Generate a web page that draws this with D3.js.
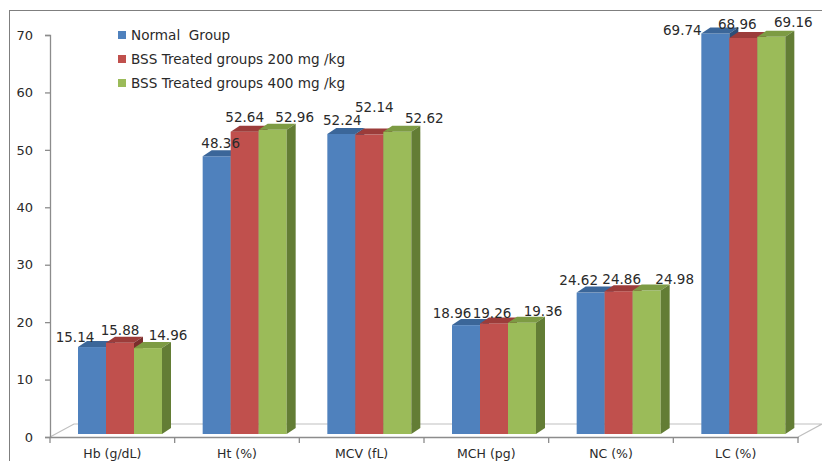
<!DOCTYPE html>
<html>
<head>
<meta charset="utf-8">
<script src="https://cdn.jsdelivr.net/npm/d3@7"></script>
<style>
  html, body { margin: 0; padding: 0; background: #fff; }
  svg { display: block; }
</style>
</head>
<body>
<svg id="chart" width="822" height="461"></svg>
<script>
// Haematological parameters per group
const categories = ["Hb (g/dL)", "Ht (%)", "MCV (fL)", "MCH (pg)", "NC (%)", "LC (%)"];
const seriesNames = ["Normal  Group", "BSS Treated groups 200 mg /kg", "BSS Treated groups 400 mg /kg"];
const normalGroup = [15.14, 48.36, 52.24, 18.96, 24.62, 69.74];
const bss200 = [15.88, 52.64, 52.14, 19.26, 24.86, 68.96];
const bss400 = [14.96, 52.96, 52.62, 19.36, 24.98, 69.16];
const yTicks = [0, 10, 20, 30, 40, 50, 60, 70];

// face colours: front, top, side
const palette = [
  { front: "#4F81BD", top: "#3B6699", side: "#2E4F78" },
  { front: "#C0504D", top: "#9C3C3A", side: "#7A2E2C" },
  { front: "#9BBB59", top: "#7D9B43", side: "#637D35" }
];

// hand-placed nudges for value labels so neighbours do not collide
const labelNudge = [
  [[-17, 3], [0, 0], [-2, 0]],
  [[4, 0], [0, -2], [0, 0]],
  [[1, -1], [5, -15], [5, -1]],
  [[-14, 1], [-2, 3], [-1, 1]],
  [[-12, 0], [3, 1], [6, 1]],
  [[-33, 10], [-6, -1], [0, -2]]
];

const series = [normalGroup, bss200, bss400];
const svg = d3.select("#chart");
const font = "'DejaVu Sans', Verdana, sans-serif";
const axisColor = "#8C8C8C";
const textColor = "#2a2a2a";

// outer frame
svg.append("rect")
  .attr("x", 9.5).attr("y", 10.5).attr("width", 900).attr("height", 600)
  .attr("fill", "none").attr("stroke", "#7F7F7F").attr("stroke-width", 1);

const x = d3.scaleBand().domain(categories).range([50, 798]).paddingInner(0).paddingOuter(0);
const y = d3.scaleLinear().domain([0, 70]).range([437, 35]);
const xs = d3.scaleBand().domain(d3.range(series.length)).range([28, 112]);

// 3D geometry
const floorDx = 24, floorDy = -13;
const lift = -3;            // bars sit a little behind the front edge
const depthX = 9, depthY = -6;

// floor
const x0 = x.range()[0], x1 = x.range()[1], yz = y(0);
svg.append("path")
  .attr("d", `M${x0},${yz} L${x0 + floorDx},${yz + floorDy} L${x1 + floorDx},${yz + floorDy} L${x1},${yz}`)
  .attr("fill", "none").attr("stroke", "#BFBFBF").attr("stroke-width", 1.2);

// y axis
const yAxis = d3.axisLeft(y).tickValues(yTicks).tickSize(5).tickPadding(12).tickFormat(d3.format("d"));
const gy = svg.append("g").attr("transform", "translate(50,0)").call(yAxis);
gy.select(".domain").attr("stroke", axisColor).attr("stroke-width", 1.3);
gy.selectAll(".tick line").attr("stroke", axisColor).attr("stroke-width", 1.3);
gy.selectAll(".tick text").attr("font-family", font).attr("font-size", 13).attr("fill", textColor);

// x axis (front edge of the floor)
const xAxis = d3.axisBottom(x).tickSize(0).tickPadding(12);
const gx = svg.append("g").attr("transform", `translate(0,${yz})`).call(xAxis);
gx.select(".domain").attr("stroke", axisColor).attr("stroke-width", 1.3);
gx.selectAll(".tick text").attr("font-family", font).attr("font-size", 12.5).attr("fill", textColor);
gx.selectAll(".sep").data(d3.range(categories.length + 1)).join("line")
  .attr("class", "sep")
  .attr("x1", i => x0 + i * x.step()).attr("x2", i => x0 + i * x.step())
  .attr("y1", 0).attr("y2", 6)
  .attr("stroke", axisColor).attr("stroke-width", 1.3);

// bars
const bw = xs.bandwidth();
categories.forEach((cat, ci) => {
  const g = svg.append("g");
  series.forEach((vals, si) => {
    const v = vals[ci];
    const left = x(cat) + xs(si);
    const right = left + bw;
    const top = y(v) + lift;
    const bottom = y(0) + lift;
    const c = palette[si];
    g.append("rect")
      .attr("x", left).attr("y", top).attr("width", bw).attr("height", bottom - top)
      .attr("fill", c.front);
    g.append("path")
      .attr("d", `M${left},${top} L${left + depthX},${top + depthY} L${right + depthX},${top + depthY} L${right},${top} Z`)
      .attr("fill", c.top);
    g.append("path")
      .attr("d", `M${right},${top} L${right + depthX},${top + depthY} L${right + depthX},${bottom + depthY} L${right},${bottom} Z`)
      .attr("fill", c.side);
  });
});

// value labels
const baseShift = [0, 0, 22];
categories.forEach((cat, ci) => {
  series.forEach((vals, si) => {
    const v = vals[ci];
    const cx = x(cat) + xs(si) + bw / 2 + baseShift[si] + labelNudge[ci][si][0];
    const cy = y(v) + lift - 13 + labelNudge[ci][si][1];
    svg.append("text")
      .attr("x", cx).attr("y", cy)
      .attr("text-anchor", "middle").attr("dominant-baseline", "central")
      .attr("font-family", font).attr("font-size", 13.5).attr("fill", textColor)
      .text(d3.format(".2f")(v));
  });
});

// legend
const legend = svg.append("g").attr("transform", "translate(118,35)");
seriesNames.forEach((name, i) => {
  const row = legend.append("g").attr("transform", `translate(0,${i * 24})`);
  row.append("rect").attr("x", 0).attr("y", -4).attr("width", 8).attr("height", 8).attr("fill", palette[i].front);
  row.append("text").attr("x", 13).attr("y", 0)
    .attr("dominant-baseline", "central")
    .attr("font-family", font).attr("font-size", 13.6).attr("fill", textColor)
    .attr("xml:space", "preserve").style("white-space", "pre")
    .text(name);
});
</script>
</body>
</html>
